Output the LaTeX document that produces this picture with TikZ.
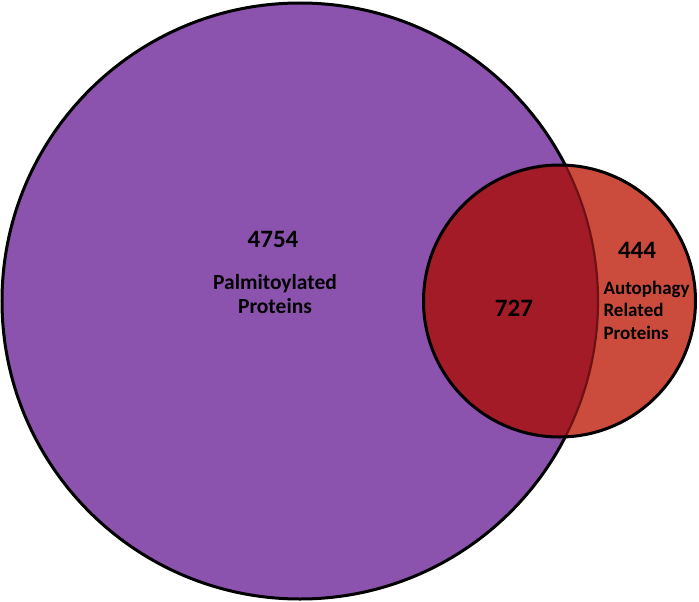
\documentclass[tikz,border=0pt]{standalone}
\usepackage{fontspec}
\setmainfont{Carlito}
\definecolor{purp}{HTML}{8B52AE}
\definecolor{redout}{HTML}{CB4B3D}
\definecolor{redin}{HTML}{A21B27}
\definecolor{arcred}{HTML}{6E1014}
\begin{document}
\begin{tikzpicture}[x=1pt,y=-1pt,
  num/.style={font=\bfseries\fontsize{25}{28}\selectfont, text=black},
  lbl/.style={font=\bfseries\fontsize{21.5}{24}\selectfont, text=black, align=center},
  lblL/.style={font=\bfseries\fontsize{19}{22.5}\selectfont, text=black, align=left}]
\useasboundingbox (0,0) rectangle (699,602);
\coordinate (bigc) at (300,301);
\coordinate (smc) at (559.5,301);
\fill[purp] (bigc) circle (298);
\draw[line width=3pt] (bigc) circle (298);
\fill[redout] (smc) circle (136);
\begin{scope}
  \clip (bigc) circle (298);
  \fill[redin] (smc) circle (136);
\end{scope}
\begin{scope}
  \clip (smc) circle (136);
  \draw[arcred, line width=2.2pt] (bigc) circle (298);
\end{scope}
\draw[line width=3pt] (smc) circle (136);
\node[num] (n1) at (273,239) {4754};
\node[lbl] (l1) at (275,294) {Palmitoylated\\Proteins};
\node[num] (n2) at (514,308) {727};
\node[num] (n3) at (637,250) {444};
\node[lblL, anchor=west] (l2) at (600,310) {Autophagy\\Related\\Proteins};
\end{tikzpicture}
\end{document}
